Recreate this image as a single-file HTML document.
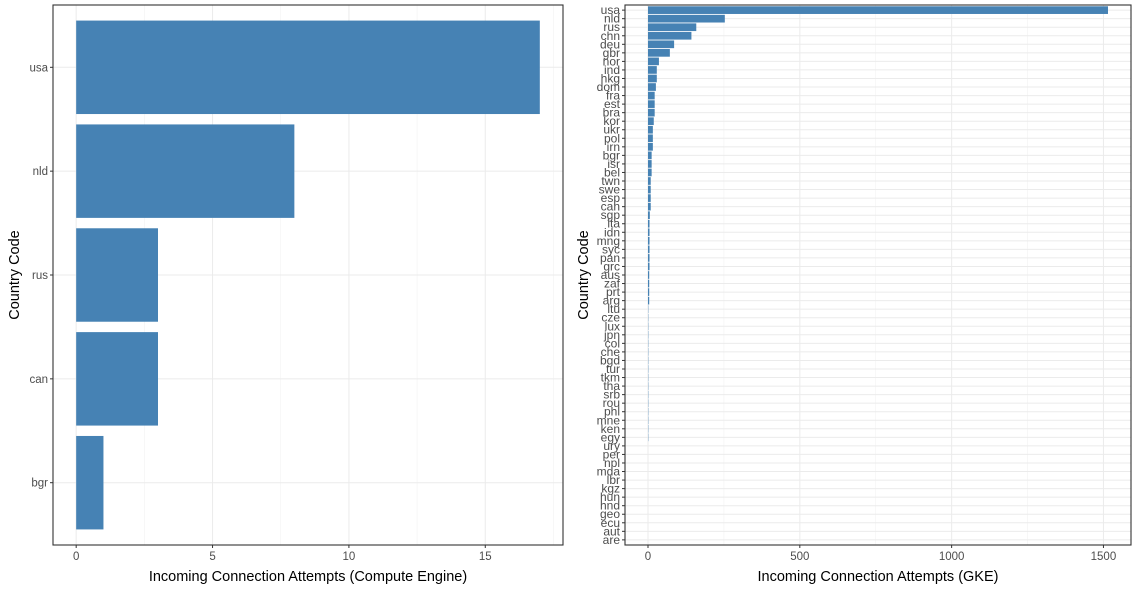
<!DOCTYPE html>
<html><head><meta charset="utf-8"><style>
body{margin:0;background:#fff;}
svg{display:block;font-family:"Liberation Sans",Arial,sans-serif;}
.tk{fill:#4d4d4d;font-size:11.5px;}
.tk2{fill:#4d4d4d;font-size:12px;}
.ttl{fill:#000;font-size:14.5px;}
</style></head><body>
<svg id="chart" width="1146" height="590" viewBox="0 0 1146 590">
<g id="left"></g>
<g id="right"></g>
</svg>
<script>
const leftCategories = ["usa","nld","rus","can","bgr"];
const leftValues = [17,8,3,3,1];
const leftTicks = [0,5,10,15];
const rightCategories = ["usa","nld","rus","chn","deu","gbr","nor","ind","hkg","dom","fra","est","bra","kor","ukr","pol","irn","bgr","isr","bel","twn","swe","esp","can","sgp","ita","idn","mng","syc","pan","grc","aus","zaf","prt","arg","ltu","cze","lux","jpn","col","che","bgd","tur","tkm","tha","srb","rou","phl","mne","ken","egy","ury","per","npl","mda","lbr","kgz","hun","hnd","geo","ecu","aut","are"];
const rightValues = [1515,253,159,143,86,72,36,29,29,26,22,22,22,19,16,16,16,12,12,12,9,9,9,9,6,5,5,5,5,5,5,4,4,4,4,1,1,1,1,1,1,1,1,1,1,1,1,1,1,1,1,0,0,0,0,0,0,0,0,0,0,0,0];
const rightTicks = [0,500,1000,1500];
const NS = "http://www.w3.org/2000/svg";
function mk(parent, tag, attrs, text){
  const e = document.createElementNS(NS, tag);
  for (const k in attrs) e.setAttribute(k, attrs[k]);
  if (text !== undefined) e.textContent = text;
  parent.appendChild(e);
  return e;
}
function panel(g, cats, vals, ticks, box, title, tickClass, pfx){
  const maxV = Math.max(...vals);
  const lo = -0.05*maxV, hi = maxV*1.05;
  const xs = v => box.x0 + (v-lo)/(hi-lo)*(box.x1-box.x0);
  const n = cats.length;
  const unit = (box.y1-box.y0)/(n+0.2);
  const ys = i => box.y0 + (0.6 + i)*unit;
  // background grids
  const step = ticks[1]-ticks[0];
  for (let t = step/2; t < hi; t += step) {
    const l = mk(g,"line",{x1:xs(t),x2:xs(t),y1:box.y0,y2:box.y1,stroke:"#f2f2f2","stroke-width":0.6});
    
    
  }
  ticks.forEach(t=>{
    const l = mk(g,"line",{x1:xs(t),x2:xs(t),y1:box.y0,y2:box.y1,stroke:"#ebebeb","stroke-width":1});
    
    
  });
  cats.forEach((c,i)=>{
    const l = mk(g,"line",{x1:box.x0,x2:box.x1,y1:ys(i),y2:ys(i),stroke:"#ebebeb","stroke-width":1});
    
    
  });
  // bars
  cats.forEach((c,i)=>{
    const h = 0.9*unit;
    const w = xs(vals[i]) - xs(0);
    if (w <= 0) return;
    const r = mk(g,"rect",{x:xs(0),y:ys(i)-h/2,width:w,height:h,fill:"#4682b4"});
    
    
  });
  const b = mk(g,"rect",{x:box.x0,y:box.y0,width:box.x1-box.x0,height:box.y1-box.y0,fill:"none",stroke:"#333","stroke-width":1.1});
  
  
  // y ticks/labels
  cats.forEach((c,i)=>{
    mk(g,"line",{x1:box.x0-3,x2:box.x0,y1:ys(i),y2:ys(i),stroke:"#333","stroke-width":1});
    const t = mk(g,"text",{x:box.x0-5,y:ys(i)+4,"text-anchor":"end",class:tickClass},c);
    
    
  });
  ticks.forEach(v=>{
    mk(g,"line",{x1:xs(v),x2:xs(v),y1:box.y1,y2:box.y1+3,stroke:"#333","stroke-width":1});
    const t = mk(g,"text",{x:xs(v),y:box.y1+15,"text-anchor":"middle",class:"tk"},String(v));
    
    
  });
  const xt = mk(g,"text",{x:(box.x0+box.x1)/2,y:581,"text-anchor":"middle",class:"ttl"},title);
  
  
  const yt = mk(g,"text",{x:0,y:0,"text-anchor":"middle",class:"ttl",transform:`translate(${box.yt},${(box.y0+box.y1)/2}) rotate(-90)`},"Country Code");
  
  
}
panel(document.getElementById("left"), leftCategories, leftValues, leftTicks,
  {x0:53,x1:563,y0:5,y1:545,yt:19}, "Incoming Connection Attempts (Compute Engine)", "tk", "l");
panel(document.getElementById("right"), rightCategories, rightValues, rightTicks,
  {x0:625,x1:1131,y0:5,y1:545,yt:588}, "Incoming Connection Attempts (GKE)", "tk2", "r");
</script>
</body></html>
